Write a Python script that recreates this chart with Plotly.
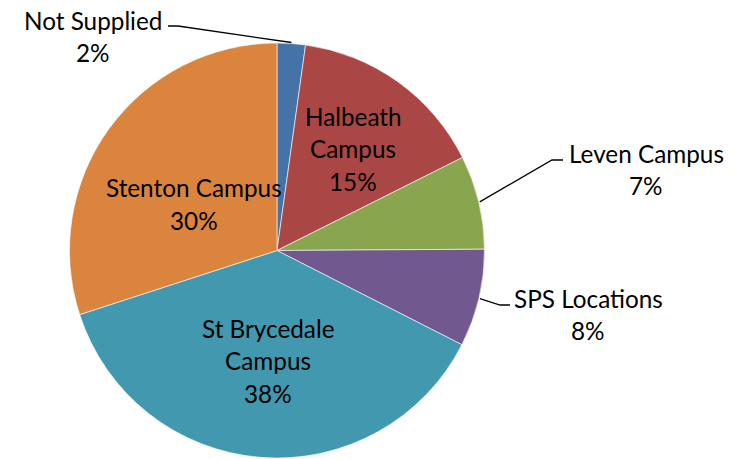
import math
import plotly.graph_objects as go

# ---- data ----
labels = ["Not Supplied", "Halbeath Campus", "Leven Campus", "SPS Locations",
          "St Brycedale Campus", "Stenton Campus"]
values = [2.2, 15.4, 7.3, 7.6, 37.5, 30.0]
colors = ["#4572A7", "#AA4643", "#89A54E", "#71588F", "#4198AF", "#DB843D"]
label_lines = [["Not Supplied"], ["Halbeath", "Campus"], ["Leven Campus"],
               ["SPS Locations"], ["St Brycedale", "Campus"], ["Stenton Campus"]]

# ---- layout (pixels, in window coordinates) ----
W, H = 738, 459
OFF = 8  # page body margin
cx, cy, R = 277, 250.5, 207.5
FONT = dict(family="Lato, 'Noto Sans', sans-serif", size=24.3, color="#000000")
LINE_STEP = 32.5
label_pos = [(93, 20), (353, 116), (646, 153), (588, 298), (268, 328), (194, 188)]
leaders = {0: ((178, 26), (168, 26)),
           2: ((552, 160), (563, 160)),
           3: ((500, 305), (510, 305))}


def px(x):
    return (x - OFF) / W


def py(y):
    return 1 - (y - OFF) / H


fig = go.Figure(go.Pie(
    labels=labels, values=values, sort=False, direction="clockwise", rotation=0,
    marker=dict(colors=colors, line=dict(color="white", width=0.6)),
    textinfo="none", hoverinfo="label+percent", showlegend=False,
    domain=dict(x=[px(cx - R), px(cx + R)], y=[py(cy + R), py(cy - R)]),
))

total = sum(values)
annotations = []
shapes = []
cum = 0
for i, (lab, v) in enumerate(zip(labels, values)):
    pct = round(v / total * 100)
    lines = label_lines[i] + [f"{pct}%"]
    x0, y0 = label_pos[i]
    for k, t in enumerate(lines):
        annotations.append(dict(text=t, x=px(x0), y=py(y0 + k * LINE_STEP), xref="paper", yref="paper",
                                xanchor="center", yanchor="middle", showarrow=False, font=FONT))
    mid = (cum + v / 2) / total * 2 * math.pi
    cum += v
    if i in leaders:
        ax = cx + (R + 1) * math.sin(mid)
        ay = cy - (R + 1) * math.cos(mid)
        (ex, ey), (fx, fy) = leaders[i]
        path = f"M {px(ax)},{py(ay)} L {px(ex)},{py(ey)} L {px(fx)},{py(fy)}"
        shapes.append(dict(type="path", path=path, xref="paper", yref="paper",
                           line=dict(color="black", width=1.3)))

fig.update_layout(
    width=W, height=H, margin=dict(l=0, r=0, t=0, b=0),
    paper_bgcolor="white", plot_bgcolor="white",
    annotations=annotations, shapes=shapes,
)

fig.write_html("out.html")
